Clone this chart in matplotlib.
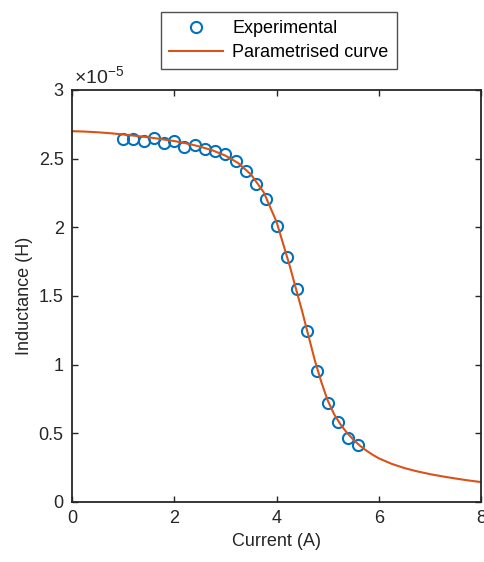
import numpy as np
import matplotlib
matplotlib.use("Agg")
import matplotlib.pyplot as plt
from matplotlib.ticker import FuncFormatter

plt.rcParams['font.family'] = ['Liberation Sans', 'DejaVu Sans']
plt.rcParams['mathtext.fontset'] = 'custom'
plt.rcParams['mathtext.rm'] = 'Liberation Sans'

# measured points (current in A, inductance in units of 1e-5 H)
exp_current = [1.0, 1.2, 1.4, 1.6, 1.8, 2.0, 2.2, 2.4, 2.6, 2.8, 3.0, 3.2,
               3.4, 3.6, 3.8, 4.0, 4.2, 4.4, 4.6, 4.8, 5.0, 5.2, 5.4, 5.6]
exp_induct = [2.642, 2.642, 2.632, 2.649, 2.613, 2.632, 2.588, 2.600, 2.571,
              2.556, 2.534, 2.486, 2.410, 2.318, 2.207, 2.010, 1.782, 1.551,
              1.245, 0.956, 0.723, 0.585, 0.468, 0.413]

# parametrised curve
fit_current = [0.0, 0.25, 0.5, 0.75, 1.0, 1.25, 1.5, 1.75, 2.0, 2.25, 2.5,
               2.75, 3.0, 3.25, 3.5, 3.75, 4.0, 4.25, 4.5, 4.75, 4.875, 5.0,
               5.125, 5.25, 5.375, 5.5, 5.625, 5.75, 5.875, 6.0, 6.25, 6.5,
               6.75, 7.0, 7.25, 7.5, 7.75, 8.0]
fit_induct = [2.700, 2.697, 2.692, 2.685, 2.676, 2.666, 2.655, 2.642, 2.628,
              2.610, 2.588, 2.560, 2.522, 2.468, 2.385, 2.255, 2.040, 1.730,
              1.390, 1.030, 0.875, 0.740, 0.640, 0.565, 0.505, 0.455, 0.412,
              0.376, 0.345, 0.318, 0.278, 0.247, 0.223, 0.203, 0.186, 0.171,
              0.157, 0.145]

SCALE = 1e-5
exp_L = np.array(exp_induct) * SCALE
fit_L = np.array(fit_induct) * SCALE

blue = '#0072BD'
orange = '#D95319'
dark = '#262626'

fig = plt.figure(figsize=(4.85, 5.62), dpi=100)
ax = fig.add_axes([0.1485, 0.1068, 0.8433, 0.7331])

ax.plot(exp_current, exp_L, 'o', mfc='none', mec=blue, ms=8, mew=1.5,
        label='Experimental')
ax.plot(fit_current, fit_L, '-', color=orange, lw=1.5,
        label='Parametrised curve')

ax.set_xlim(0, 8)
ax.set_ylim(0, 3 * SCALE)
ax.set_xticks([0, 2, 4, 6, 8])
ax.set_yticks(np.arange(0, 3.01, 0.5) * SCALE)
ax.yaxis.set_major_formatter(FuncFormatter(lambda v, p: '%g' % round(v / SCALE, 3)))

# matlab style exponent above the y axis
ax.text(0.005, 1.006, r'$\times\mathregular{10^{-5}}$', transform=ax.transAxes,
        fontsize=14, color=dark, ha='left', va='bottom')

ax.tick_params(direction='in', length=4, width=1, colors=dark,
               labelsize=13, top=True, right=True, pad=6)
for s in ax.spines.values():
    s.set_color(dark)
    s.set_linewidth(1.3)

ax.set_xlabel('Current (A)', fontsize=13, color=dark)
ax.set_ylabel('Inductance (H)', fontsize=13, color=dark)

leg = fig.legend(loc='upper center', bbox_to_anchor=(0.575, 0.995),
                 fontsize=13, frameon=True, fancybox=False,
                 edgecolor=dark, handlelength=3.0, borderpad=0.45,
                 labelspacing=0.4, handletextpad=0.5)
leg.get_frame().set_linewidth(1.0)

fig.savefig('out.png', dpi=100)
